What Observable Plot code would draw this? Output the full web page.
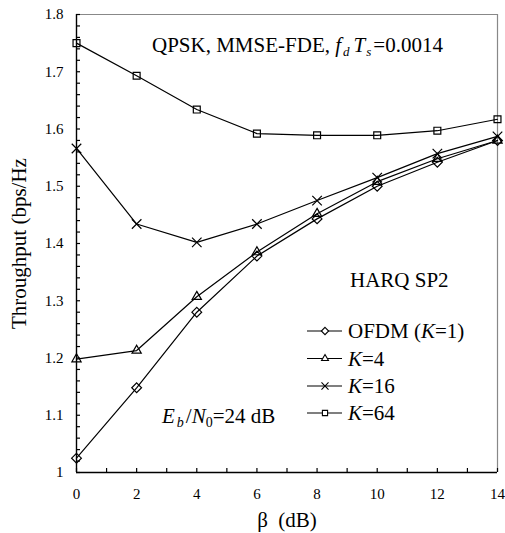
<!DOCTYPE html>
<html><head><meta charset="utf-8">
<script src="https://cdn.jsdelivr.net/npm/d3@7"></script>
<script src="https://cdn.jsdelivr.net/npm/@observablehq/plot@0.6"></script>
<style>body{margin:0;background:#fff;}</style>
</head><body><div id="chart"></div>
<script>
const beta = [0, 2, 4, 6, 8, 10, 12, 14];
const ofdm = [1.025, 1.148, 1.280, 1.378, 1.443, 1.500, 1.542, 1.580];
const k4   = [1.198, 1.213, 1.307, 1.385, 1.452, 1.508, 1.548, 1.580];
const k16  = [1.566, 1.434, 1.402, 1.434, 1.475, 1.515, 1.557, 1.587];
const k64  = [1.750, 1.693, 1.634, 1.592, 1.589, 1.589, 1.597, 1.617];
const seriesNames = ["OFDM (K=1)", "K=4", "K=16", "K=64"];
const seriesSymbols = ["diamond2", "triangle2", "times", "square2"];
const xTickLabels = [0, 2, 4, 6, 8, 10, 12, 14];
const xTicksMinor = d3.range(0, 15, 1);
const yTickLabels = [1, 1.1, 1.2, 1.3, 1.4, 1.5, 1.6, 1.7, 1.8];
const yTicksMinor = d3.range(0, 41).map(i => +(1 + i * 0.02).toFixed(2));
const yLabel = "Throughput (bps/Hz";
const xLabel = "β\u00a0 (dB)";

const FONT = "'Liberation Serif', 'Times New Roman', Times, serif";
const values = [ofdm, k4, k16, k64];
const data = [];
values.forEach((vals, si) => vals.forEach((v, i) => data.push({series: seriesNames[si], beta: beta[i], tp: v})));

const plot = Plot.plot({
  width: 505, height: 533,
  marginLeft: 76, marginRight: 8, marginTop: 14, marginBottom: 61,
  style: {fontFamily: FONT, fontSize: "15px", background: "white", color: "black"},
  x: {domain: [0, 14]},
  y: {domain: [1, 1.8]},
  symbol: {domain: seriesNames, range: seriesSymbols},
  marks: [
    Plot.ruleY([1.8], {stroke: "#888", strokeWidth: 1.2}),
    Plot.ruleX([14], {stroke: "#888", strokeWidth: 1.2}),
    Plot.axisX(xTicksMinor, {tickSize: -4, fill: "none", label: null, strokeWidth: 1.2}),
    Plot.axisX(xTickLabels, {tickSize: 0, tickPadding: 16, label: null, fontSize: 15, fontFamily: FONT}),
    Plot.axisY(yTicksMinor, {tickSize: -4, fill: "none", label: null, strokeWidth: 1.2}),
    Plot.axisY(yTickLabels, {tickSize: 0, tickPadding: 13, label: null, fontSize: 15, fontFamily: FONT, tickFormat: d => String(+d.toFixed(1))}),
    Plot.ruleY([1], {stroke: "black", strokeWidth: 1.4}),
    Plot.ruleX([0], {stroke: "black", strokeWidth: 1.4}),
    Plot.line(data, {x: "beta", y: "tp", z: "series", stroke: "black", strokeWidth: 1.2}),
    Plot.dot(data, {x: "beta", y: "tp", symbol: "series", r: 4.4, stroke: "black", strokeWidth: 1.2, fill: "none"}),
    Plot.text([yLabel], {frameAnchor: "left", textAnchor: "middle", lineAnchor: "middle", rotate: -90, dx: -57, fontSize: 21, fontFamily: FONT}),
    Plot.text([xLabel], {frameAnchor: "bottom", textAnchor: "middle", lineAnchor: "middle", dy: 48, fontSize: 21, fontFamily: FONT})
  ]
});
document.getElementById("chart").appendChild(plot);

const svg = d3.select(plot);
const g = svg.append("g").attr("font-family", FONT).attr("fill", "black").attr("text-anchor", "start");

// Title annotation
const t = g.append("text").attr("x", 152).attr("y", 52).attr("font-size", 21);
t.append("tspan").text("QPSK, MMSE-FDE, ");
t.append("tspan").attr("font-style", "italic").text("f");
t.append("tspan").attr("font-style", "italic").attr("font-size", 13).attr("dx", 2).attr("dy", 4).text("d");
t.append("tspan").attr("font-style", "italic").attr("dx", 4).attr("dy", -4).text("T");
t.append("tspan").attr("font-style", "italic").attr("font-size", 13).attr("dx", 1).attr("dy", 4).text("s");
t.append("tspan").attr("dx", 2).attr("dy", -4).text("=0.0014");

// Eb/N0 annotation
const e = g.append("text").attr("x", 162).attr("y", 423).attr("font-size", 21);
e.append("tspan").attr("font-style", "italic").text("E");
e.append("tspan").attr("font-style", "italic").attr("font-size", 14).attr("dx", 2).attr("dy", 4).text("b");
e.append("tspan").attr("dx", 2).attr("dy", -4).text("/");
e.append("tspan").attr("font-style", "italic").text("N");
e.append("tspan").attr("font-size", 14).attr("dy", 4).text("0");
e.append("tspan").attr("dy", -4).text("=24 dB");

// HARQ SP2
g.append("text").attr("x", 350).attr("y", 287).attr("font-size", 21).text("HARQ SP2");

// Legend
const symMap = {diamond2: d3.symbolDiamond2, triangle2: d3.symbolTriangle2, times: d3.symbolTimes, square2: d3.symbolSquare2};
const rowY = [331, 358.5, 386, 413];
seriesNames.forEach((name, i) => {
  const y = rowY[i];
  g.append("line").attr("x1", 307).attr("x2", 342).attr("y1", y).attr("y2", y).attr("stroke", "black").attr("stroke-width", 1.2);
  g.append("path").attr("transform", `translate(325,${y})`)
    .attr("d", d3.symbol(symMap[seriesSymbols[i]], Math.PI * 3.3 * 3.3)())
    .attr("fill", "white").attr("stroke", "black").attr("stroke-width", 1.1);
  const tx = g.append("text").attr("x", 348).attr("y", y + 7).attr("font-size", 21);
  const m = name.match(/^(.*?)K(=\d+)(\)?)$/);
  if (m[1]) tx.append("tspan").text(m[1]);
  tx.append("tspan").attr("font-style", "italic").text("K");
  tx.append("tspan").text(m[2] + m[3]);
});
</script>
</body></html>
